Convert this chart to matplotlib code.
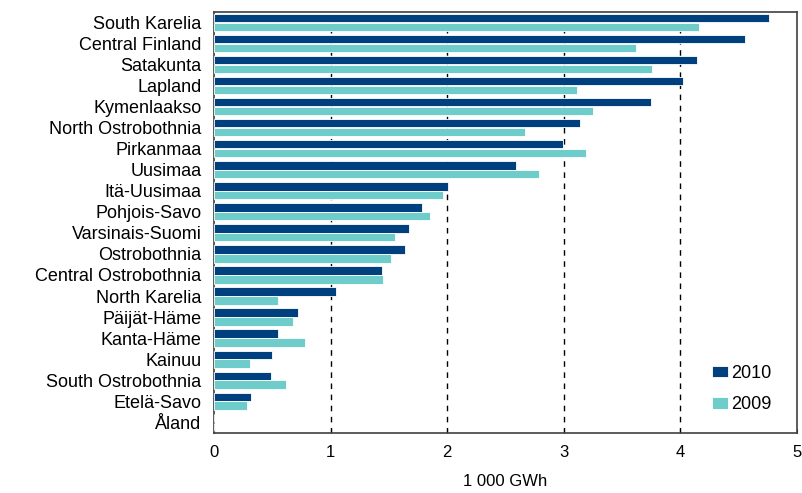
import numpy as np
import matplotlib
matplotlib.use('Agg')
import matplotlib.pyplot as plt

plt.rcParams['font.family'] = ['Liberation Sans', 'DejaVu Sans']

regions = ['South Karelia', 'Central Finland', 'Satakunta', 'Lapland', 'Kymenlaakso',
           'North Ostrobothnia', 'Pirkanmaa', 'Uusimaa', 'Itä-Uusimaa', 'Pohjois-Savo',
           'Varsinais-Suomi', 'Ostrobothnia', 'Central Ostrobothnia', 'North Karelia',
           'Päijät-Häme', 'Kanta-Häme', 'Kainuu', 'South Ostrobothnia', 'Etelä-Savo', 'Åland']
v2010 = [4.76, 4.55, 4.14, 4.02, 3.75, 3.14, 2.99, 2.59, 2.01, 1.78,
         1.67, 1.64, 1.44, 1.05, 0.72, 0.55, 0.50, 0.49, 0.32, 0.0]
v2009 = [4.16, 3.62, 3.76, 3.11, 3.25, 2.67, 3.19, 2.79, 1.96, 1.85,
         1.55, 1.52, 1.45, 0.55, 0.68, 0.78, 0.31, 0.62, 0.28, 0.0]
xticks = [0, 1, 2, 3, 4, 5]

fig = plt.figure(figsize=(8.03, 4.93), dpi=100)
ax = fig.add_axes([0.2665, 0.122, 0.726, 0.854])

y = np.arange(len(regions))
h = 0.4
ax.barh(y - h/2 - 0.01, v2010, height=h, color='#00407f', edgecolor='white', linewidth=0.6, label='2010', zorder=3)
ax.barh(y + h/2 + 0.01, v2009, height=h, color='#6ecdcb', edgecolor='white', linewidth=0.6, label='2009', zorder=3)

ax.set_ylim(len(regions) - 0.5, -0.5)
ax.set_xlim(0, 5)
ax.set_yticks(y)
ax.set_yticklabels(regions, fontsize=13)
ax.set_xticks(xticks)
ax.set_xticklabels([str(t) for t in xticks], fontsize=12)
ax.tick_params(axis='y', length=0, pad=9)
ax.tick_params(axis='x', direction='in', length=3, pad=9)
ax.set_xlabel('1 000 GWh', fontsize=12, labelpad=10)

for gx in xticks[1:-1]:
    ax.axvline(gx, color='black', linestyle=(0, (4, 4)), linewidth=1, zorder=1)

for s in ax.spines.values():
    s.set_color('#404040')
    s.set_linewidth(1.2)

leg = ax.legend(loc='lower right', frameon=False, fontsize=13, handlelength=0.9,
                handleheight=0.6, labelspacing=0.8, bbox_to_anchor=(0.985, 0.008),
                handletextpad=0.2)

fig.savefig('out.png', dpi=100)
